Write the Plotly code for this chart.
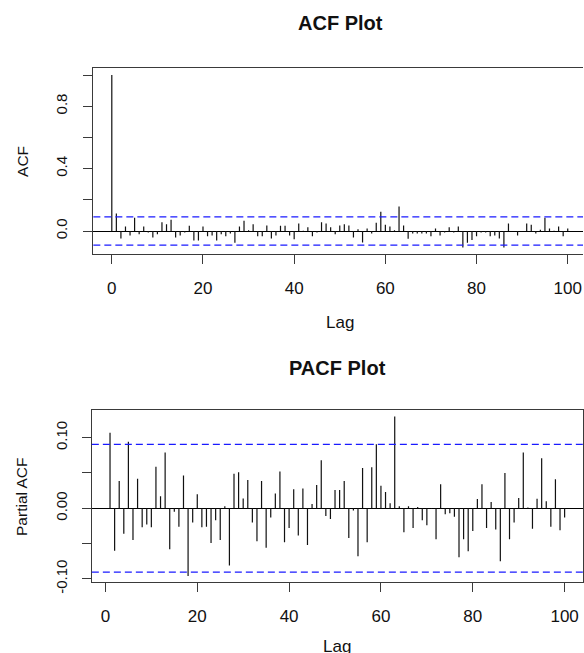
import plotly.graph_objects as go

# ---------------- data ----------------
acf_lags = list(range(0, 101))
acf_values = [
    1.0, 0.113, -0.047, 0.030, -0.028, 0.085, -0.021, 0.030, -0.009, -0.041,
    -0.021, 0.056, 0.043, 0.073, -0.041, -0.028, -0.009, 0.034, -0.060, -0.060,
    0.030, -0.034, -0.028, -0.060, -0.021, -0.034, -0.015, -0.075, 0.030, 0.066,
    0.006, 0.043, -0.034, -0.034, 0.036, -0.047, -0.028, 0.034, 0.034, -0.028,
    -0.053, 0.049, 0.002, 0.024, -0.034, -0.009, 0.056, 0.049, 0.024, -0.021,
    0.036, 0.043, 0.036, -0.041, 0.011, -0.073, 0.017, -0.015, 0.053, 0.124,
    0.041, 0.030, 0.006, 0.158, 0.036, -0.049, -0.015, -0.015, -0.015, -0.015,
    -0.034, 0.017, -0.028, -0.009, 0.024, -0.009, 0.030, -0.105, -0.075, -0.058,
    -0.034, -0.009, -0.009, -0.034, -0.028, -0.047, -0.105, 0.049, 0.001, -0.028,
    0.001, 0.049, 0.041, -0.015, 0.009, 0.085, 0.017, 0.002, 0.030, -0.034,
    0.017,
]

pacf_lags = list(range(1, 101))
pacf_values = [
    0.107, -0.060, 0.0385, -0.036, 0.0944, -0.045, 0.042, -0.027, -0.023, -0.027,
    0.059, 0.017, 0.079, -0.058, -0.005, -0.026, 0.0465, -0.096, -0.020, 0.020,
    -0.027, -0.026, -0.049, -0.017, -0.045, 0.003, -0.081, 0.049, 0.051, 0.014,
    0.040, -0.020, -0.0465, 0.0385, -0.056, -0.013, 0.021, 0.052, -0.048, -0.028,
    0.027, -0.0385, 0.028, -0.052, 0.006, 0.033, 0.068, -0.011, -0.015, 0.026,
    0.026, 0.0385, -0.042, -0.003, -0.068, 0.057, -0.048, 0.058, 0.0906, 0.032,
    0.023, 0.007, 0.130, 0.003, -0.034, 0.003, -0.028, 0.002, -0.017, -0.024,
    -0.001, -0.044, 0.034, -0.0085, -0.007, -0.012, -0.0695, -0.044, -0.061, -0.032,
    0.013, 0.034, -0.028, 0.009, -0.030, -0.075, 0.050, -0.044, -0.020, 0.0145,
    0.079, 0.001, -0.029, 0.0135, 0.071, 0.010, -0.026, 0.041, -0.031, -0.013,
]

conf_limit = 0.0905

x_tick_vals = [0, 20, 40, 60, 80, 100]
x_tick_text = ["0", "20", "40", "60", "80", "100"]
acf_tick_vals = [0.0, 0.2, 0.4, 0.6, 0.8, 1.0]
acf_tick_text = ["0.0", "", "0.4", "", "0.8", ""]
pacf_tick_vals = [-0.10, -0.05, 0.0, 0.05, 0.10]
pacf_tick_text = ["-0.10", "", "0.00", "", "0.10"]

# ---------------- layout helpers ----------------
REF_W, REF_H = 584, 653
W = REF_W
H = 664  # the capture squeezes the page vertically by ~0.983; compensate
FONT = "Liberation Sans, Arial, sans-serif"
BOX = "#3a3a3a"


def fx(px):
    return px / REF_W


def fy(py):
    return 1 - py / REF_H


def stems(lags, vals):
    xs, ys = [], []
    for k, v in zip(lags, vals):
        xs += [k, k, None]
        ys += [0, v, None]
    return xs, ys


fig = go.Figure()

ax, ay = stems(acf_lags, acf_values)
fig.add_trace(go.Scatter(x=ax, y=ay, mode="lines", xaxis="x", yaxis="y",
                         line=dict(color="#111111", width=1.2),
                         hoverinfo="skip", showlegend=False))
px_, py_ = stems(pacf_lags, pacf_values)
fig.add_trace(go.Scatter(x=px_, y=py_, mode="lines", xaxis="x2", yaxis="y2",
                         line=dict(color="#111111", width=1.2),
                         hoverinfo="skip", showlegend=False))

# confidence bands
for xr, yr in (("x domain", "y"), ("x2 domain", "y2")):
    for s in (1, -1):
        fig.add_shape(type="line", xref=xr, yref=yr, x0=0, x1=1,
                      y0=s * conf_limit, y1=s * conf_limit,
                      line=dict(color="#1a1aff", width=1.2, dash="7px,4px"))

axis_common = dict(
    showline=True, linecolor=BOX, linewidth=1.3,
    ticks="outside", ticklen=9, tickwidth=1.3, tickcolor=BOX,
    showgrid=False, zeroline=False,
    tickfont=dict(family=FONT, size=17, color="#111111"),
)

fig.update_layout(
    width=W, height=H,
    margin=dict(l=0, r=0, t=0, b=0),
    paper_bgcolor="white", plot_bgcolor="white",
    showlegend=False,
    xaxis=dict(axis_common, domain=[fx(93.5), 1.0], range=[-4.05, 103.35],
               mirror=True, tickvals=x_tick_vals, ticktext=x_tick_text,
               anchor="y", ticklabelstandoff=9),
    yaxis=dict(axis_common, domain=[fy(254), fy(67.7)], range=[-0.147, 1.047],
               tickvals=acf_tick_vals, ticktext=acf_tick_text, tickangle=-90,
               zeroline=True, zerolinecolor="#000000", zerolinewidth=1.2,
               tickfont=dict(family=FONT, size=15, color="#111111"),
               anchor="x", ticklabelstandoff=10),
    xaxis2=dict(axis_common, domain=[fx(92), fx(583.8)], range=[-2.96, 103.96],
                mirror=True, tickvals=x_tick_vals, ticktext=x_tick_text,
                anchor="y2", ticklabelstandoff=9),
    yaxis2=dict(axis_common, domain=[fy(582.3), fy(410)], range=[-0.1048, 0.1392],
                mirror=True, tickvals=pacf_tick_vals, ticktext=pacf_tick_text,
                tickangle=-90, zeroline=True, zerolinecolor="#000000",
                zerolinewidth=1.2,
                tickfont=dict(family=FONT, size=15, color="#111111"),
                anchor="x2", ticklabelstandoff=9),
)

annots = [
    dict(text="<b>ACF Plot</b>", x=fx(341), y=fy(23), size=20, angle=0),
    dict(text="<b>PACF Plot</b>", x=fx(338), y=fy(368), size=20, angle=0),
    dict(text="Lag", x=fx(341), y=fy(323), size=17, angle=0),
    dict(text="Lag", x=fx(338), y=fy(646), size=17, angle=0),
    dict(text="ACF", x=fx(22), y=fy(161), size=15.5, angle=-90),
    dict(text="Partial ACF", x=fx(21), y=fy(497), size=15.5, angle=-90),
]
for a in annots:
    fig.add_annotation(text=a["text"], x=a["x"], y=a["y"], xref="paper", yref="paper",
                       xanchor="center", yanchor="middle", showarrow=False,
                       textangle=a["angle"],
                       font=dict(family=FONT, size=a["size"], color="#111111"))

# remove the browser's default body margin so the figure starts at the page corner
page_fit = "document.body.style.margin='0';document.body.style.padding='0';"
fig.write_html("out.html", config={"displayModeBar": False}, post_script=page_fit)
